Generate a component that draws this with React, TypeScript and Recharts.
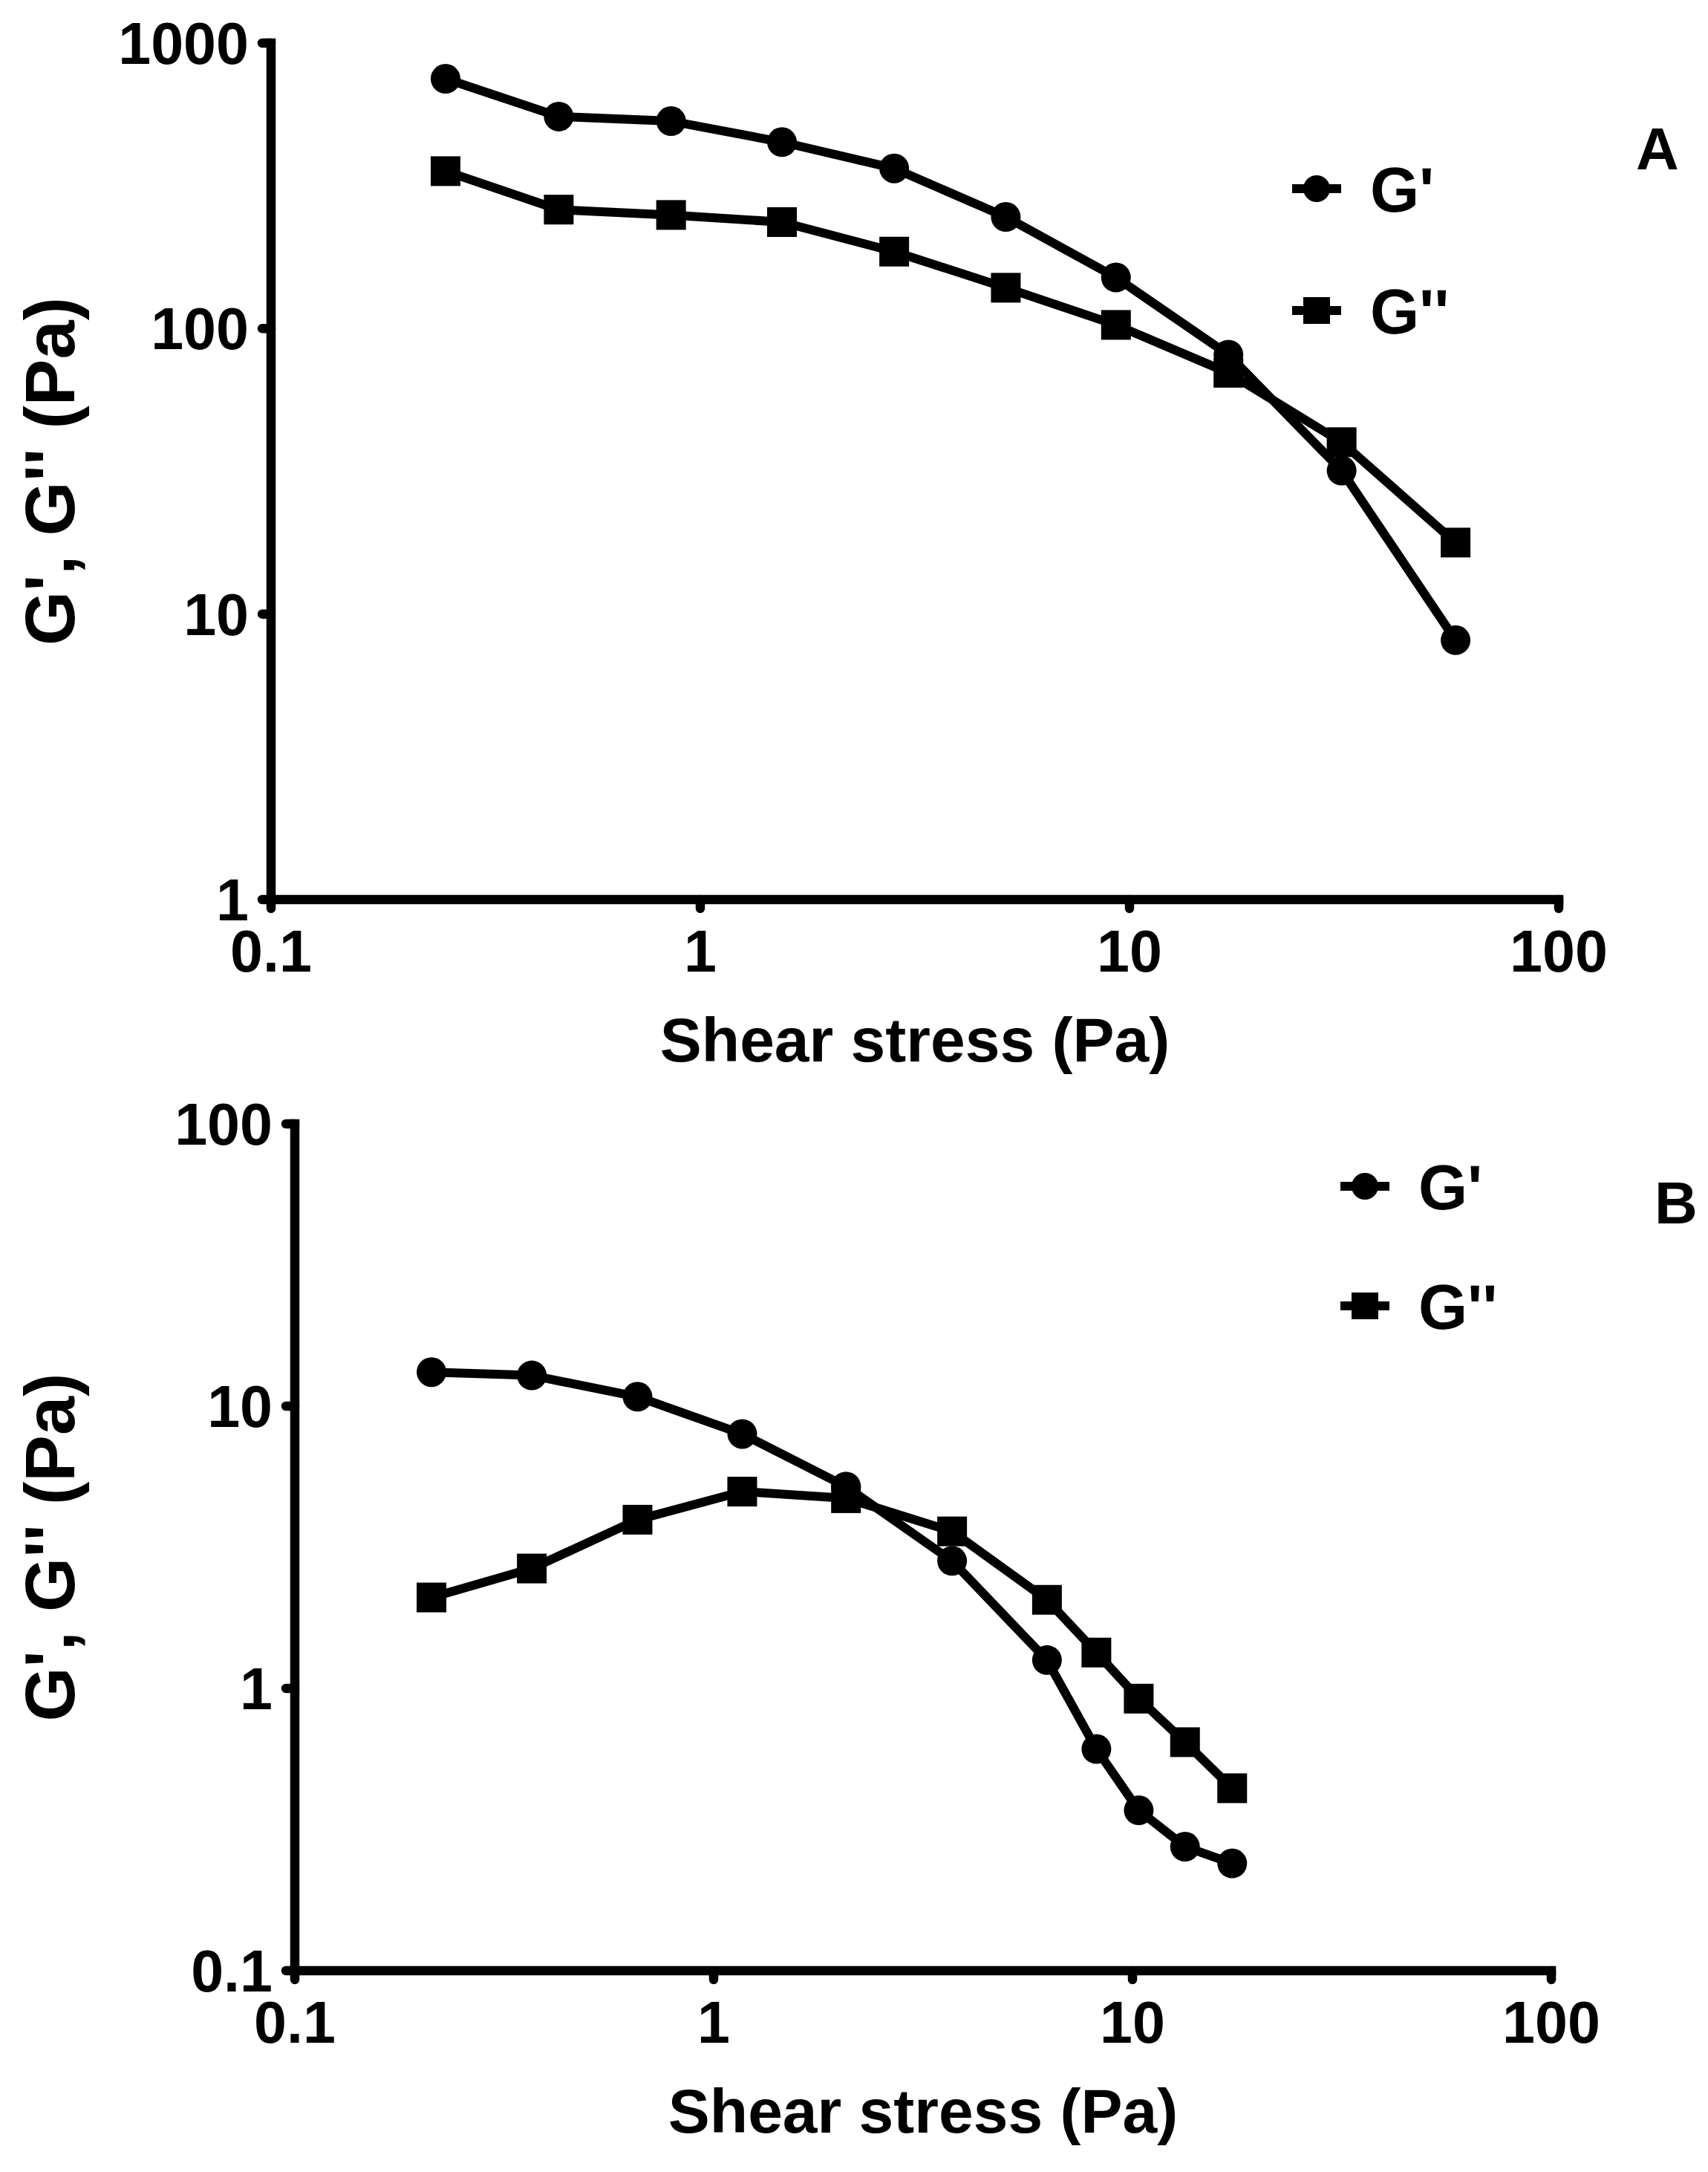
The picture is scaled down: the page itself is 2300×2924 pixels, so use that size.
import React from "react"
import { LineChart, Line, XAxis, YAxis, Legend, Label } from "recharts"

const FONT = '"Liberation Sans", Arial, Helvetica, sans-serif'

// panel A
const stressA = [0.255, 0.468, 0.855, 1.55, 2.83, 5.15, 9.3, 17.0, 31.2, 57.5]
const gPrimeA = [750, 553, 533, 450, 364, 246, 151, 81, 31.8, 8.1]
const gDoubleA = [356, 261, 250, 236, 186, 139, 103, 70, 40, 17.8]

// panel B
const stressB = [0.212, 0.368, 0.658, 1.17, 2.07, 3.71, 6.25, 8.2, 10.35, 13.35, 17.3]
const gPrimeB = [13.2, 12.85, 10.8, 7.97, 5.19, 2.83, 1.26, 0.61, 0.37, 0.275, 0.24]
const gDoubleB = [2.1, 2.66, 3.96, 4.98, 4.72, 3.6, 2.06, 1.34, 0.92, 0.645, 0.443]

const xTicks = [0.1, 1, 10, 100]
const yTicksA = [1, 10, 100, 1000]
const yTicksB = [0.1, 1, 10, 100]

const SERIES_NAMES = ["G'", "G''"]
const X_TITLE = "Shear stress (Pa)"
const Y_TITLE = "G', G'' (Pa)"

const rowsA = stressA.map((x, i) => ({ x, g1: gPrimeA[i], g2: gDoubleA[i] }))
const rowsB = stressB.map((x, i) => ({ x, g1: gPrimeB[i], g2: gDoubleB[i] }))

const tickStyle = { fill: "#000", fontSize: 79, fontWeight: 700, fontFamily: FONT }
const axisLineStyle = { stroke: "#000", strokeWidth: 12.5, strokeLinecap: "square" as const }
const tickLineStyle = { stroke: "#000", strokeWidth: 12.5, strokeLinecap: "round" as const }

function SquareDot(props: any) {
  const { cx, cy, index } = props
  if (cx == null || cy == null) return <g key={`sq-${index}`} />
  return <rect key={`sq-${index}`} x={cx - 20} y={cy - 20} width={40} height={40} fill="#000" />
}

function LegendGlyphs({ payload, gap }: { payload: any[]; gap: number }) {
  return (
    <svg width={420} height={gap + 80} style={{ overflow: "visible", display: "block" }}>
      {payload.map((p, i) => {
        const cy = 30 + i * gap
        const square = p.dataKey === "g2"
        return (
          <g key={String(p.dataKey)}>
            <line x1={0} x2={66} y1={cy} y2={cy} stroke="#000" strokeWidth={12} />
            {square ? (
              <rect x={33 - 18} y={cy - 18} width={36} height={36} fill="#000" />
            ) : (
              <circle cx={33} cy={cy} r={18} fill="#000" />
            )}
            <text x={105} y={cy + 31} fontSize={85} fontWeight={700} fontFamily={FONT} fill="#000">
              {p.value}
            </text>
          </g>
        )
      })}
    </svg>
  )
}

interface PanelProps {
  top: number
  height: number
  rows: { x: number; g1: number; g2: number }[]
  yTicks: number[]
  plotTop: number
  plotLeft: number
  plotRight: number
  plotBottom: number
  legendLeft: number
  legendTop: number
  legendGap: number
  letter: string
  letterLeft: number
  letterTop: number
}

function Panel(p: PanelProps) {
  const xAxisHeight = 240
  const margin = {
    top: p.plotTop,
    right: 2300 - p.plotRight,
    left: 0,
    bottom: p.height - p.plotBottom - xAxisHeight,
  }
  return (
    <div style={{ position: "absolute", left: 0, top: p.top, width: 2300, height: p.height }}>
      <LineChart width={2300} height={p.height} data={p.rows} margin={margin}>
        <XAxis
          dataKey="x"
          type="number"
          scale="log"
          domain={[xTicks[0], xTicks[xTicks.length - 1]]}
          ticks={xTicks}
          allowDataOverflow
          interval={0}
          height={xAxisHeight}
          tickSize={12}
          tickMargin={29}
          axisLine={axisLineStyle}
          tickLine={tickLineStyle}
          tick={tickStyle}
          tickFormatter={(v) => String(v)}
        >
          <Label
            value={X_TITLE}
            position="insideBottom"
            offset={22}
            fill="#000"
            fontSize={84}
            fontWeight={700}
            fontFamily={FONT}
          />
        </XAxis>
        <YAxis
          type="number"
          scale="log"
          domain={[p.yTicks[0], p.yTicks[p.yTicks.length - 1]]}
          ticks={p.yTicks}
          allowDataOverflow
          interval={0}
          width={p.plotLeft}
          tickSize={12}
          tickMargin={18}
          axisLine={axisLineStyle}
          tickLine={tickLineStyle}
          tick={tickStyle}
          tickFormatter={(v) => String(v)}
        >
          <Label
            value={Y_TITLE}
            angle={-90}
            position="insideLeft"
            offset={67}
            style={{ textAnchor: "middle" }}
            fill="#000"
            fontSize={94}
            fontWeight={700}
            fontFamily={FONT}
          />
        </YAxis>
        <Legend
          layout="vertical"
          align="center"
          verticalAlign="middle"
          wrapperStyle={{ left: p.legendLeft, top: p.legendTop, width: 420 }}
          content={(lp: any) => <LegendGlyphs payload={lp.payload ?? []} gap={p.legendGap} />}
        />
        <Line
          dataKey="g1"
          name={SERIES_NAMES[0]}
          type="linear"
          stroke="#000"
          strokeWidth={12}
          strokeLinejoin="round"
          dot={{ r: 20, fill: "#000", stroke: "none" }}
          activeDot={false}
          isAnimationActive={false}
        />
        <Line
          dataKey="g2"
          name={SERIES_NAMES[1]}
          type="linear"
          stroke="#000"
          strokeWidth={12}
          strokeLinejoin="round"
          dot={(dp: any) => <SquareDot {...dp} key={`sq-${dp.index}`} />}
          activeDot={false}
          isAnimationActive={false}
        />
      </LineChart>
      <div
        style={{
          position: "absolute",
          left: p.letterLeft,
          top: p.letterTop,
          fontFamily: FONT,
          fontWeight: 700,
          fontSize: 80,
          lineHeight: 1,
          color: "#000",
        }}
      >
        {p.letter}
      </div>
    </div>
  )
}

export default function App() {
  return (
    <div style={{ position: "absolute", left: 0, top: 0, width: 2300, height: 2924, background: "#fff" }}>
      <Panel
        top={0}
        height={1460}
        rows={rowsA}
        yTicks={yTicksA}
        plotTop={58}
        plotLeft={365}
        plotRight={2099}
        plotBottom={1211}
        legendLeft={1740}
        legendTop={224}
        legendGap={164}
        letter="A"
        letterLeft={2203}
        letterTop={161}
      />
      <Panel
        top={1460}
        height={1464}
        rows={rowsB}
        yTicks={yTicksB}
        plotTop={53}
        plotLeft={397}
        plotRight={2089}
        plotBottom={1193}
        legendLeft={1805}
        legendTop={107}
        legendGap={161}
        letter="B"
        letterLeft={2228}
        letterTop={120}
      />
    </div>
  )
}
